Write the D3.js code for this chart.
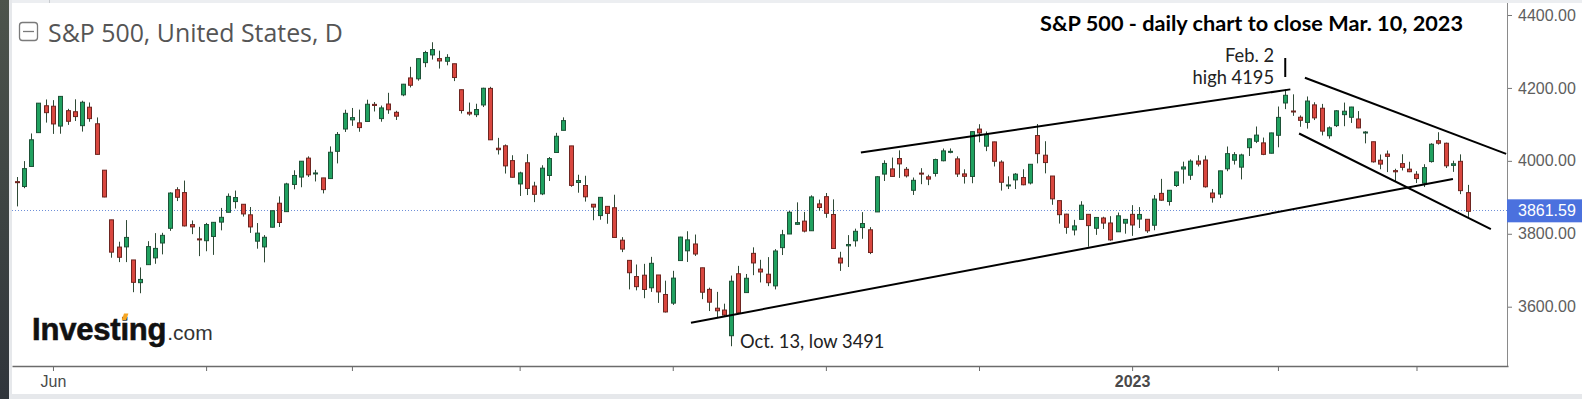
<!DOCTYPE html>
<html>
<head>
<meta charset="utf-8">
<script src="https://cdn.jsdelivr.net/npm/d3@7"></script>
<style>
  html, body { margin: 0; padding: 0; background: #fff; }
  svg { display: block; }
</style>
</head>
<body>
<div id="chart"></div>
<script>
// S&P 500 daily candles, 24 May 2022 to 10 Mar 2023
const dates = [
  "2022-05-24","2022-05-25","2022-05-26","2022-05-27","2022-05-31",
  "2022-06-01","2022-06-02","2022-06-03","2022-06-06","2022-06-07","2022-06-08","2022-06-09","2022-06-10",
  "2022-06-13","2022-06-14","2022-06-15","2022-06-16","2022-06-17","2022-06-21","2022-06-22","2022-06-23",
  "2022-06-24","2022-06-27","2022-06-28","2022-06-29","2022-06-30",
  "2022-07-01","2022-07-05","2022-07-06","2022-07-07","2022-07-08","2022-07-11","2022-07-12","2022-07-13",
  "2022-07-14","2022-07-15","2022-07-18","2022-07-19","2022-07-20","2022-07-21","2022-07-22","2022-07-25",
  "2022-07-26","2022-07-27","2022-07-28","2022-07-29",
  "2022-08-01","2022-08-02","2022-08-03","2022-08-04","2022-08-05","2022-08-08","2022-08-09","2022-08-10",
  "2022-08-11","2022-08-12","2022-08-15","2022-08-16","2022-08-17","2022-08-18","2022-08-19","2022-08-22",
  "2022-08-23","2022-08-24","2022-08-25","2022-08-26","2022-08-29","2022-08-30","2022-08-31",
  "2022-09-01","2022-09-02","2022-09-06","2022-09-07","2022-09-08","2022-09-09","2022-09-12","2022-09-13",
  "2022-09-14","2022-09-15","2022-09-16","2022-09-19","2022-09-20","2022-09-21","2022-09-22","2022-09-23",
  "2022-09-26","2022-09-27","2022-09-28","2022-09-29","2022-09-30",
  "2022-10-03","2022-10-04","2022-10-05","2022-10-06","2022-10-07","2022-10-10","2022-10-11","2022-10-12",
  "2022-10-13","2022-10-14","2022-10-17","2022-10-18","2022-10-19","2022-10-20","2022-10-21","2022-10-24",
  "2022-10-25","2022-10-26","2022-10-27","2022-10-28","2022-10-31",
  "2022-11-01","2022-11-02","2022-11-03","2022-11-04","2022-11-07","2022-11-08","2022-11-09","2022-11-10",
  "2022-11-11","2022-11-14","2022-11-15","2022-11-16","2022-11-17","2022-11-18","2022-11-21","2022-11-22",
  "2022-11-23","2022-11-25","2022-11-28","2022-11-29","2022-11-30",
  "2022-12-01","2022-12-02","2022-12-05","2022-12-06","2022-12-07","2022-12-08","2022-12-09","2022-12-12",
  "2022-12-13","2022-12-14","2022-12-15","2022-12-16","2022-12-19","2022-12-20","2022-12-21","2022-12-22",
  "2022-12-23","2022-12-27","2022-12-28","2022-12-29","2022-12-30",
  "2023-01-03","2023-01-04","2023-01-05","2023-01-06","2023-01-09","2023-01-10","2023-01-11","2023-01-12",
  "2023-01-13","2023-01-17","2023-01-18","2023-01-19","2023-01-20","2023-01-23","2023-01-24","2023-01-25",
  "2023-01-26","2023-01-27","2023-01-30","2023-01-31",
  "2023-02-01","2023-02-02","2023-02-03","2023-02-06","2023-02-07","2023-02-08","2023-02-09","2023-02-10",
  "2023-02-13","2023-02-14","2023-02-15","2023-02-16","2023-02-17","2023-02-21","2023-02-22","2023-02-23",
  "2023-02-24","2023-02-27","2023-02-28",
  "2023-03-01","2023-03-02","2023-03-03","2023-03-06","2023-03-07","2023-03-08","2023-03-09","2023-03-10"
];

const opens = [
  3942.9,3929.6,3984.6,4077.4,4151.1,
  4149.8,4095.4,4137.6,4134.7,4096.5,4147.1,4101.7,3974.4,
  3838.2,3763.5,3764.1,3728.2,3665.9,3715.3,3733.9,3774.7,
  3815.0,3920.8,3913.0,3825.1,3786.0,
  3781.0,3792.6,3832.0,3858.9,3888.3,3880.9,3852.0,3779.7,
  3764.0,3818.0,3883.8,3860.7,3935.3,3955.5,4007.5,3965.7,
  3953.2,3951.4,4026.1,4087.3,
  4112.4,4104.2,4108.0,4154.9,4115.9,4155.9,4133.1,4181.0,
  4227.4,4225.0,4269.4,4290.5,4280.4,4273.1,4266.3,4195.1,
  4133.1,4126.6,4153.3,4198.7,4034.6,4041.3,4000.7,
  3936.7,3994.7,3930.9,3909.4,3959.9,4022.9,4083.7,4041.0,
  3940.7,3932.4,3881.0,3849.9,3875.2,3871.4,3782.4,3727.1,
  3682.7,3686.4,3651.9,3687.0,3633.5,
  3609.8,3726.5,3753.3,3772.0,3706.7,3647.5,3595.9,3590.8,
  3520.4,3690.4,3638.7,3746.3,3703.1,3689.1,3657.1,3762.0,
  3799.4,3826.0,3834.7,3808.3,3881.9,
  3901.8,3852.9,3733.3,3767.0,3780.7,3817.0,3810.9,3859.9,
  3963.7,3978.0,4006.4,3976.8,3919.3,3966.4,3956.2,3965.5,
  4000.3,4023.3,4005.4,3964.2,3957.2,
  4087.1,4040.2,4052.0,3996.6,3933.3,3947.8,3954.2,3939.3,
  4069.4,4015.5,3958.4,3890.9,3853.8,3810.5,3839.5,3853.3,
  3815.1,3843.3,3829.6,3805.5,3829.1,
  3853.3,3840.4,3839.7,3823.4,3910.8,3888.6,3932.4,3977.6,
  3960.6,3999.3,4002.3,3911.8,3909.0,3978.1,4001.7,3982.7,
  4036.1,4053.7,4049.3,4020.9,
  4070.1,4158.7,4136.7,4119.6,4105.4,4153.5,4144.3,4068.9,
  4096.6,4126.7,4119.5,4114.8,4077.4,4052.4,4001.8,4018.6,
  3973.2,3992.4,3977.2,
  3963.3,3938.7,3998.0,4055.2,4048.3,3987.6,3998.7,3912.8
];

const highs = [
  3955.7,3999.3,4075.1,4158.5,4168.3,
  4166.5,4177.5,4142.7,4168.8,4164.9,4160.1,4119.1,3974.4,
  3838.2,3778.2,3837.6,3728.2,3707.7,3779.7,3801.8,3802.6,
  3913.7,3927.7,3945.9,3836.5,3819.0,
  3829.8,3832.2,3870.9,3910.6,3918.5,3880.9,3873.4,3829.4,
  3796.4,3863.6,3902.4,3939.8,3974.1,3999.3,4012.4,3975.3,
  3953.2,4039.6,4079.0,4140.2,
  4145.0,4140.5,4167.7,4161.3,4151.6,4186.6,4137.3,4211.0,
  4257.9,4280.5,4301.8,4325.3,4302.2,4292.5,4266.3,4195.1,
  4159.8,4156.6,4200.5,4203.0,4063.0,4045.0,4015.4,
  3970.2,4018.4,3942.6,3987.9,4010.5,4076.8,4119.3,4041.0,
  3961.9,3959.1,3881.0,3900.5,3876.0,3907.1,3790.8,3727.1,
  3715.7,3717.5,3736.7,3687.0,3671.4,
  3698.4,3791.9,3806.9,3797.9,3706.7,3652.2,3640.7,3608.3,
  3685.4,3712.0,3689.7,3762.8,3728.6,3736.0,3757.9,3810.7,
  3862.9,3886.2,3860.0,3905.4,3893.7,
  3911.8,3894.4,3750.6,3796.3,3814.0,3859.4,3818.2,3958.3,
  4001.5,4009.0,4028.8,3983.1,3954.3,3979.9,3962.0,4005.9,
  4033.8,4034.0,4012.3,3976.8,4080.1,
  4100.5,4080.5,4052.5,4001.5,3957.6,3966.4,3977.0,3990.7,
  4101.0,4053.8,3958.4,3890.9,3854.9,3838.2,3889.3,3853.3,
  3845.8,3846.7,3848.3,3858.2,3839.7,
  3878.5,3873.2,3839.7,3906.2,3950.6,3919.8,3970.1,3997.8,
  4004.0,4015.4,4014.2,3922.9,3973.0,4039.3,4023.9,4019.6,
  4061.6,4094.2,4063.9,4077.2,
  4149.0,4195.4,4182.4,4124.6,4176.5,4160.7,4156.2,4094.4,
  4138.9,4159.8,4148.1,4136.5,4081.5,4052.4,4017.4,4028.3,
  3978.3,4018.1,3997.5,
  3971.7,3990.8,4048.3,4078.5,4050.0,4000.4,4017.8,3934.1
];

const lows = [
  3875.1,3925.0,3984.6,4077.4,4104.9,
  4073.9,4074.4,4098.7,4109.2,4080.2,4107.2,4017.2,3900.2,
  3734.3,3722.3,3722.3,3639.8,3636.9,3715.3,3717.7,3743.5,
  3808.0,3889.7,3820.1,3799.0,3738.7,
  3752.1,3742.1,3809.4,3858.9,3869.3,3847.2,3802.4,3759.1,
  3721.6,3817.2,3818.6,3860.7,3922.0,3927.6,3955.8,3943.5,
  3910.7,3951.4,3993.0,4079.2,
  4096.0,4079.8,4108.0,4135.4,4107.3,4129.0,4112.1,4177.3,
  4201.4,4219.8,4256.9,4277.8,4253.1,4262.0,4218.7,4129.9,
  4124.0,4120.0,4147.6,4057.7,4017.4,3965.2,3954.5,
  3903.7,3906.2,3886.8,3906.0,3944.8,4022.9,4083.7,3928.9,
  3912.6,3888.3,3837.1,3838.5,3827.5,3789.5,3749.7,3647.5,
  3644.8,3623.3,3640.6,3610.4,3584.1,
  3604.9,3726.5,3722.7,3739.2,3620.7,3588.1,3568.5,3573.9,
  3491.6,3579.7,3638.7,3686.5,3666.5,3656.4,3647.4,3741.7,
  3799.4,3824.1,3803.8,3808.3,3863.2,
  3843.8,3758.7,3698.2,3708.8,3764.7,3786.3,3744.2,3859.9,
  3944.8,3956.4,3953.2,3954.3,3906.5,3936.0,3933.3,3956.9,
  3998.7,4020.8,3955.8,3937.7,3938.6,
  4050.9,4026.6,3984.5,3918.4,3922.7,3922.7,3933.0,3935.3,
  3993.0,3965.7,3879.5,3827.9,3800.0,3795.6,3839.5,3764.5,
  3797.0,3813.2,3780.8,3805.5,3800.3,
  3794.3,3815.8,3802.4,3809.6,3890.4,3877.3,3928.5,3937.6,
  3947.7,3984.6,3926.6,3885.5,3897.9,3971.6,3989.8,3949.1,
  4013.3,4048.7,4015.6,4020.4,
  4037.2,4141.9,4123.4,4093.4,4088.4,4111.9,4069.7,4060.8,
  4092.7,4095.0,4104.0,4089.5,4048.0,3995.2,3976.9,3969.2,
  3943.1,3973.6,3969.0,
  3939.1,3928.2,3995.2,4044.6,3980.3,3969.8,3908.7,3846.3
];

const closes = [
  3941.5,3978.7,4057.8,4158.2,4132.2,
  4101.2,4176.8,4108.5,4121.4,4160.7,4115.8,4017.8,3900.9,
  3749.6,3735.5,3790.0,3666.8,3674.8,3764.8,3759.9,3795.7,
  3911.7,3900.1,3821.6,3818.8,3785.4,
  3825.3,3831.4,3845.1,3902.6,3899.4,3854.4,3818.8,3801.8,
  3790.4,3863.2,3830.9,3936.7,3959.9,3999.0,3961.6,3966.8,
  3921.1,4023.6,4072.4,4130.3,
  4118.6,4091.2,4155.2,4151.9,4145.2,4140.1,4122.5,4210.2,
  4207.3,4280.2,4297.1,4305.2,4274.0,4283.7,4228.5,4138.0,
  4128.7,4140.8,4199.1,4057.7,4030.6,3986.2,3955.0,
  3966.9,3924.3,3908.2,3979.9,4006.2,4067.4,4110.4,3932.7,
  3946.0,3901.4,3873.3,3899.9,3855.9,3789.9,3758.0,3693.2,
  3655.0,3647.3,3719.0,3640.5,3585.6,
  3678.4,3790.9,3783.3,3744.5,3639.7,3612.4,3588.8,3577.0,
  3669.9,3583.1,3678.0,3720.0,3695.2,3665.8,3752.8,3797.3,
  3859.1,3830.6,3807.3,3901.1,3872.0,
  3856.1,3759.7,3719.9,3770.6,3806.8,3828.1,3748.6,3956.4,
  3992.9,3957.3,3991.7,3958.8,3946.6,3965.3,3949.9,4003.6,
  4027.3,4026.1,3963.9,3957.6,4080.1,
  4076.6,4071.7,3998.8,3941.3,3933.9,3963.5,3934.4,3990.6,
  4019.7,3995.3,3895.8,3852.4,3817.7,3821.6,3878.4,3822.4,
  3844.8,3829.3,3783.2,3849.3,3839.5,
  3824.1,3853.0,3808.1,3895.1,3892.1,3919.3,3969.6,3983.2,
  3999.1,3991.0,3928.9,3898.9,3972.6,4019.8,4017.0,4016.2,
  4060.4,4070.6,4017.8,4076.6,
  4119.2,4179.8,4136.5,4111.1,4164.0,4117.9,4081.5,4090.5,
  4137.3,4136.1,4147.6,4090.4,4079.1,3997.3,3991.1,4012.3,
  3970.0,3982.2,3970.2,
  3951.4,3981.4,4045.6,4048.4,3986.4,3992.0,3918.3,3861.59
];

const yTicks = [3600, 3800, 4000, 4200, 4400];
// one label per month start, only two are printed
const xTickLabels = ["Jun", "", "", "", "", "", "", "2023", "", ""];

// hand drawn trend lines: [candle index, price]
const trendLines = [
  [[92.5, 3556], [197.0, 3950]],
  [[115.8, 4023], [174.7, 4196]],
  [[176.7, 4228], [204.3, 4019]],
  [[175.9, 4075], [202.2, 3813]]
];
const highMarker = [[174, 4282], [174, 4230]];

const width = 1582, height = 399;
const plot = { left: 12, right: 1508, top: 3, bottom: 366 };

const svg = d3.select("#chart").append("svg")
  .attr("width", width)
  .attr("height", height);

svg.append("rect").attr("width", width).attr("height", height).attr("fill", "#fff");

// frame of the page around the chart
const grad = svg.append("defs").append("linearGradient")
  .attr("id", "side").attr("x1", 0).attr("y1", 0).attr("x2", 0).attr("y2", 1);
grad.append("stop").attr("offset", "0%").attr("stop-color", "#4d544c");
grad.append("stop").attr("offset", "100%").attr("stop-color", "#30353b");
svg.append("rect").attr("x", 0).attr("y", 0).attr("width", 9).attr("height", height).attr("fill", "url(#side)");
svg.append("rect").attr("x", 9).attr("y", 0).attr("width", 3).attr("height", height).attr("fill", "#e6e8eb");
svg.append("rect").attr("x", 12).attr("y", 0).attr("width", width - 12).attr("height", 3).attr("fill", "#eceef1");
svg.append("line").attr("x1", 49.5).attr("x2", 49.5).attr("y1", 0).attr("y2", 3).attr("stroke", "#c8cbcf");
svg.append("rect").attr("x", 12).attr("y", 394).attr("width", width - 12).attr("height", 5).attr("fill", "#e6e8eb");

const x = d3.scaleLinear().domain([-0.62, 204.55]).range([plot.left, plot.right]);
const y = d3.scaleLinear().domain([3600, 4400]).range([306.7, 15]);

const candles = dates.map((d, i) => ({
  i, date: d, o: opens[i], h: highs[i], l: lows[i], c: closes[i]
}));

// month start ticks
const monthTicks = [];
dates.forEach((d, i) => {
  if (i > 0 && d.slice(0, 7) !== dates[i - 1].slice(0, 7)) monthTicks.push(i);
});

// title with the collapse icon
svg.append("rect")
  .attr("x", 19.5).attr("y", 22.5).attr("width", 18).attr("height", 18).attr("rx", 3)
  .attr("fill", "none").attr("stroke", "#7a7a7a").attr("stroke-width", 1.3);
svg.append("line")
  .attr("x1", 23).attr("x2", 34).attr("y1", 31.5).attr("y2", 31.5)
  .attr("stroke", "#7a7a7a").attr("stroke-width", 1.3);

function fitWidth(sel, target) {
  const w = sel.node().getComputedTextLength();
  const fs = parseFloat(sel.attr("font-size"));
  sel.attr("font-size", fs * target / w);
}

const title = svg.append("text")
  .attr("x", 48).attr("y", 41.5)
  .attr("font-family", "'Open Sans', sans-serif").attr("font-size", 25)
  .attr("fill", "#555")
  .text("S&P 500, United States, D");
fitWidth(title, 295);

// Investing.com logo
const logo = svg.append("text")
  .attr("x", 32).attr("y", 339.5)
  .attr("font-family", "'Liberation Sans', Arial, sans-serif");
logo.append("tspan").attr("font-size", 31).attr("font-weight", "bold").attr("fill", "#111")
  .attr("stroke", "#111").attr("stroke-width", 0.6)
  .attr("letter-spacing", -0.2).text("Investing");
logo.append("tspan").attr("font-size", 21).attr("fill", "#333").attr("dx", 1).text(".com");
{
  const ext = logo.node().getExtentOfChar(6);
  const cx = ext.x + ext.width / 2;
  svg.append("path")
    .attr("d", `M${cx - 2.8},${320} L${cx + 1.6},${320} L${cx + 3.8},${313.5} L${cx - 0.6},${313.5} Z`)
    .attr("fill", "#f5a623");
}

// dotted last price line
const last = closes[closes.length - 1];
svg.append("line")
  .attr("x1", plot.left).attr("x2", plot.right)
  .attr("y1", Math.round(y(last)) - 0.5).attr("y2", Math.round(y(last)) - 0.5)
  .attr("stroke", "#6e8fd8").attr("stroke-width", 1).attr("stroke-dasharray", "1,2");

// candles
const g = svg.append("g");
const candle = g.selectAll(".candle").data(candles).enter().append("g").attr("class", "candle");

candle.append("line")
  .attr("x1", d => Math.round(x(d.i)) + 0.5)
  .attr("x2", d => Math.round(x(d.i)) + 0.5)
  .attr("y1", d => y(d.h))
  .attr("y2", d => y(d.l))
  .attr("stroke", "#2f4a36").attr("stroke-width", 1);

candle.append("rect")
  .attr("x", d => Math.round(x(d.i)) - 1.5)
  .attr("width", 4)
  .attr("y", d => y(Math.max(d.o, d.c)))
  .attr("height", d => Math.max(1, y(Math.min(d.o, d.c)) - y(Math.max(d.o, d.c))))
  .attr("fill", d => d.c >= d.o ? "#20a160" : "#d9473f")
  .attr("stroke", d => d.c >= d.o ? "#1d5237" : "#6e2520")
  .attr("stroke-width", 1);

// trend lines
const line = d3.line().x(d => x(d[0])).y(d => y(d[1]));
svg.append("g").selectAll("path").data(trendLines).enter().append("path")
  .attr("d", line)
  .attr("fill", "none").attr("stroke", "#000").attr("stroke-width", 2);
svg.append("path").attr("d", line(highMarker))
  .attr("fill", "none").attr("stroke", "#000").attr("stroke-width", 2);

// annotations
const note = { "font-family": "Lato, 'Open Sans', sans-serif", "font-size": 18.3, fill: "#222" };
function addNote(txt, xp, yp, anchor) {
  const t = svg.append("text").attr("x", xp).attr("y", yp).attr("text-anchor", anchor).text(txt);
  Object.entries(note).forEach(([k, v]) => t.attr(k, v));
  return t;
}
addNote("Feb. 2", 1274, 61.7, "end");
addNote("high 4195", 1274, 83.5, "end");
addNote("Oct. 13, low 3491", 740, 348, "start");

svg.append("text")
  .attr("x", 1040).attr("y", 31)
  .attr("font-family", "Lato, 'Open Sans', sans-serif").attr("font-size", 21).attr("font-weight", "bold")
  .attr("fill", "#000")
  .attr("textLength", 423).attr("lengthAdjust", "spacingAndGlyphs")
  .text("S&P 500 - daily chart to close Mar. 10, 2023");

// right price axis
const yAxis = svg.append("g")
  .attr("transform", `translate(${plot.right},0)`)
  .call(d3.axisRight(y).tickValues(yTicks).tickFormat(d3.format(".2f")).tickSize(4).tickPadding(6));
yAxis.select(".domain").remove();
yAxis.selectAll(".tick line").attr("stroke", "#777");
yAxis.selectAll(".tick text")
  .attr("font-family", "'Liberation Sans', Arial, sans-serif").attr("font-size", 16).attr("fill", "#5e5e5e");
svg.append("line")
  .attr("x1", plot.right - 0.5).attr("x2", plot.right - 0.5)
  .attr("y1", plot.top).attr("y2", plot.bottom)
  .attr("stroke", "#8a8a8a").attr("stroke-width", 1);

// last price badge
svg.append("rect")
  .attr("x", plot.right - 1).attr("y", y(last) - 12)
  .attr("width", width - plot.right + 1).attr("height", 23)
  .attr("fill", "#4b71de");
svg.append("text")
  .attr("x", plot.right + 10).attr("y", y(last) - 0.5).attr("dy", "0.35em")
  .attr("font-family", "'Liberation Sans', Arial, sans-serif").attr("font-size", 16).attr("fill", "#fff")
  .text(last.toFixed(2));

// bottom time axis
const xAxis = svg.append("g")
  .attr("transform", `translate(0,${plot.bottom})`)
  .call(d3.axisBottom(x).tickValues(monthTicks)
    .tickFormat((d, k) => xTickLabels[k]).tickSize(5).tickSizeOuter(0).tickPadding(5));
xAxis.select(".domain").attr("stroke", "#6b6b6b").attr("stroke-width", 1.5);
xAxis.selectAll(".tick line").attr("stroke", "#6b6b6b");
xAxis.selectAll(".tick text")
  .attr("font-family", "'Liberation Sans', Arial, sans-serif").attr("font-size", 16)
  .attr("fill", "#4a4a4a")
  .attr("font-weight", (d, k) => xTickLabels[k] === "2023" ? "bold" : "normal");
</script>
</body>
</html>
